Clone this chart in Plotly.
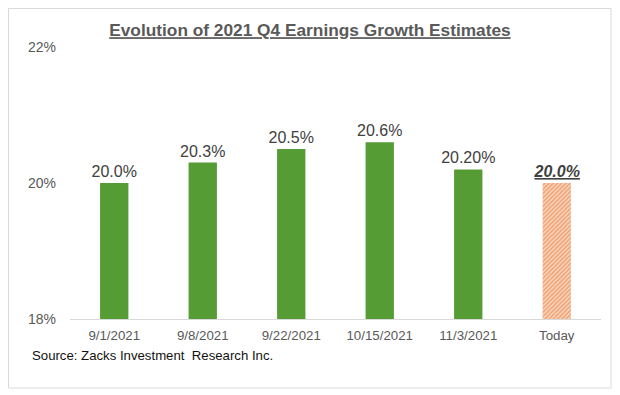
import plotly.graph_objects as go

categories = ["9/1/2021", "9/8/2021", "9/22/2021", "10/15/2021", "11/3/2021", "Today"]
growth_estimates = [20.0, 20.3, 20.5, 20.6, 20.2, 20.0]
value_labels = ["20.0%", "20.3%", "20.5%", "20.6%", "20.20%", "<b><i><u>20.0%</u></i></b>"]
y_tick_values = [18, 20, 22]
y_tick_labels = ["18%", "20%", "22%"]

green = "#559C34"

fig = go.Figure()
fig.add_trace(go.Bar(
    x=categories[:5],
    y=growth_estimates[:5],
    text=value_labels[:5],
    textposition="outside",
    constraintext="none",
    textfont=dict(family="Liberation Sans, Arial, sans-serif", size=16, color="#404040"),
    cliponaxis=False,
    marker=dict(color=green, line=dict(width=0)),
    width=0.32,
    hoverinfo="skip",
))
fig.add_trace(go.Bar(
    x=categories[5:],
    y=growth_estimates[5:],
    text=value_labels[5:],
    textposition="outside",
    constraintext="none",
    textfont=dict(family="Liberation Sans, Arial, sans-serif", size=16, color="#404040"),
    cliponaxis=False,
    marker=dict(
        color="#F6C4A4",
        line=dict(width=0),
        pattern=dict(shape="/", fgcolor="#EE9E6C", bgcolor="#F9D4BC",
                     fillmode="replace", size=3, solidity=0.45),
    ),
    width=0.32,
    hoverinfo="skip",
))

fig.update_layout(
    width=620, height=395,
    margin=dict(l=62, r=27, t=39, b=84),
    paper_bgcolor="white",
    plot_bgcolor="white",
    showlegend=False,
    barmode="overlay",
    font=dict(family="Liberation Sans, Arial, sans-serif", color="#595959"),
    title=dict(
        text="<b><u>Evolution of 2021 Q4 Earnings Growth Estimates</u></b>",
        x=0.487, xanchor="center", y=0.944, yanchor="middle",
        font=dict(size=17.3, color="#595959"),
    ),
    xaxis=dict(
        showline=True, linecolor="#D9D9D9", linewidth=1,
        ticks="", tickfont=dict(size=13.3, color="#595959"),
        showgrid=False, ticklabelstandoff=4,
        categoryorder="array", categoryarray=categories,
    ),
    yaxis=dict(
        range=[18, 22],
        tickvals=y_tick_values, ticktext=y_tick_labels,
        tickfont=dict(size=14, color="#595959"),
        showgrid=False, zeroline=False, showline=False, ticks="",
        ticklabelstandoff=13,
    ),
    shapes=[dict(
        type="rect", xref="paper", yref="paper",
        x0=-0.1158, x1=1.0188, y0=-0.2537, y1=1.1415,
        line=dict(color="#D9D9D9", width=1), fillcolor="rgba(0,0,0,0)",
        layer="below",
    )],
    annotations=[dict(
        text="Source: Zacks Investment  Research Inc.",
        xref="paper", yref="paper", x=-0.075, y=-0.135,
        xanchor="left", yanchor="middle", showarrow=False,
        font=dict(size=13.2, color="#111111"),
    )],
)

fig.write_html("out.html")
